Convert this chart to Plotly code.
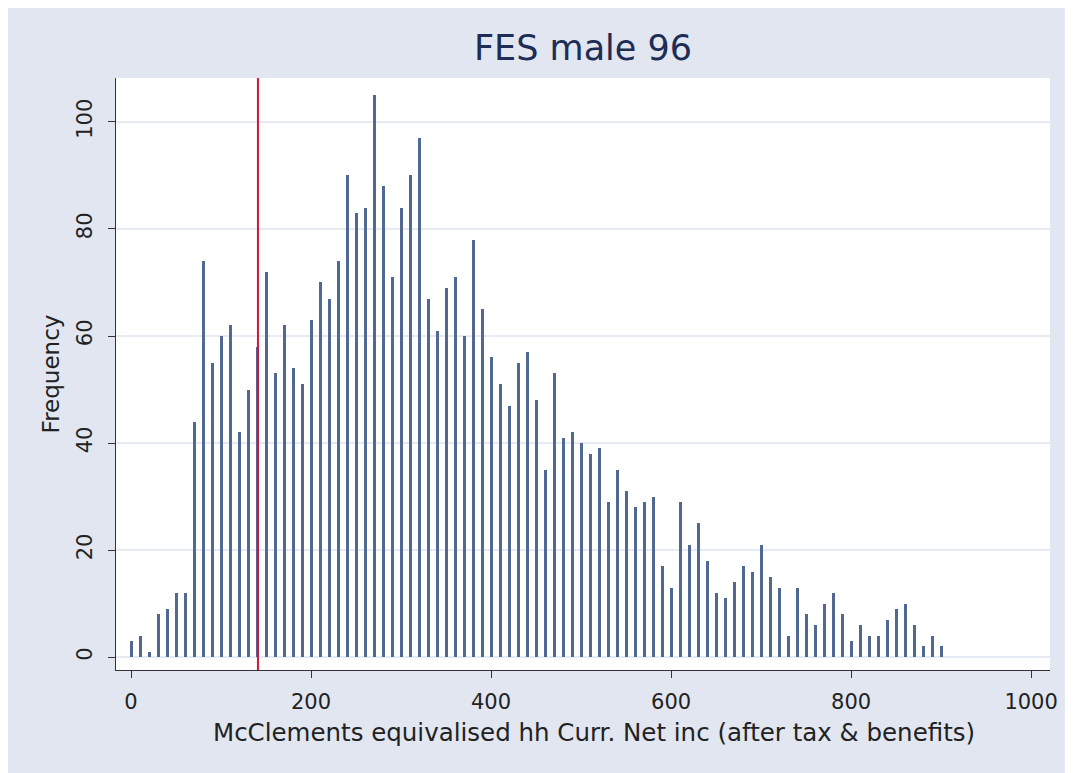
import plotly.graph_objects as go

# Data
income_bins = list(range(0, 910, 10))
frequency = [3, 4, 1, 8, 9, 12, 12, 44, 74, 55,
             60, 62, 42, 50, 58, 72, 53, 62, 54, 51,
             63, 70, 67, 74, 90, 83, 84, 105, 88, 71,
             84, 90, 97, 67, 61, 69, 71, 60, 78, 65,
             56, 51, 47, 55, 57, 48, 35, 53, 41, 42,
             40, 38, 39, 29, 35, 31, 28, 29, 30, 17,
             13, 29, 21, 25, 18, 12, 11, 14, 17, 16,
             21, 15, 13, 4, 13, 8, 6, 10, 12, 8,
             3, 6, 4, 4, 7, 9, 10, 6, 2, 4, 2]
poverty_line = 141
x_ticks = [0, 200, 400, 600, 800, 1000]
y_ticks = [0, 20, 40, 60, 80, 100]
x_title = "McClements equivalised hh Curr. Net inc (after tax & benefits)"

assert len(income_bins) == len(frequency)

BG = "#E1E6F0"
FONT = "DejaVu Sans"
W, H = 1065, 765

fig = go.Figure()
fig.add_trace(go.Bar(
    x=income_bins, y=frequency, width=3.4,
    marker=dict(color="#506892", line=dict(width=0)),
    hoverinfo="x+y", showlegend=False,
))

fig.add_shape(type="line", xref="x", yref="paper",
              x0=poverty_line, x1=poverty_line, y0=0, y1=1,
              line=dict(color="#D2143A", width=2))

fig.add_annotation(text=x_title, xref="paper", yref="paper",
                   x=0.5118, y=-0.1064, xanchor="center", yanchor="middle",
                   showarrow=False, font=dict(family=FONT, size=24.5, color="#222222"))

fig.update_layout(
    width=W, height=H,
    margin=dict(l=108, r=23, t=70, b=103),
    paper_bgcolor=BG, plot_bgcolor="white",
    title=dict(text="FES male 96", x=0.5, xref="paper", y=1 - 40 / H,
               yanchor="middle", font=dict(family=FONT, size=35, color="#1E2D55")),
    font=dict(family=FONT, color="#222222"),
    bargap=0,
)

fig.update_xaxes(
    range=[-16.7, 1021], tickvals=x_ticks, ticks="outside", ticklen=7,
    tickcolor="#333333", showline=True, linecolor="#333333", linewidth=1,
    showgrid=False, zeroline=False, ticklabelstandoff=6,
    tickfont=dict(size=21, color="#222222"),
)
fig.update_yaxes(
    range=[-2.4, 108.2], tickvals=y_ticks, ticks="outside", ticklen=7,
    tickcolor="#333333", showline=True, linecolor="#333333", linewidth=1,
    showgrid=True, gridcolor="#E6EAF2", gridwidth=1.5, zeroline=False,
    ticklabelstandoff=8,
    tickangle=-90, tickfont=dict(size=21, color="#222222"),
    title=dict(text="Frequency", font=dict(size=23, color="#222222"), standoff=6),
)

fig.write_html("out.html")
